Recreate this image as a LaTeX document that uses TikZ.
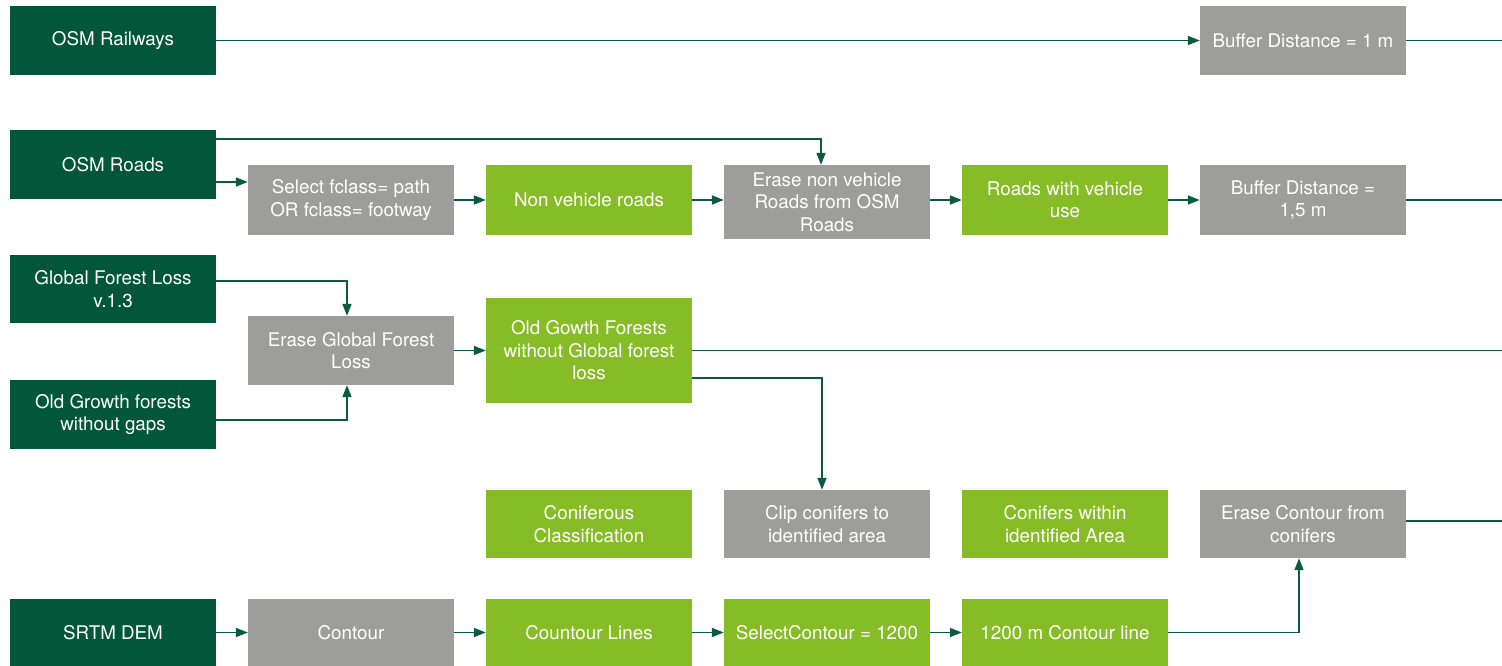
\documentclass[tikz,border=0pt]{standalone}
\usepackage{fontspec}
\setmainfont{TeX Gyre Heros}
\usetikzlibrary{arrows.meta,calc}
\definecolor{dkgreen}{HTML}{02573A}
\definecolor{ltgreen}{HTML}{86BC25}
\definecolor{boxgrey}{HTML}{9D9D9C}
\definecolor{linegreen}{HTML}{0B5B3F}
\begin{document}
\begin{tikzpicture}[x=1pt,y=-1pt,
  box/.style={minimum width=206pt, minimum height=68pt, inner sep=0pt, align=center, text=white, font=\fontsize{18.8}{22.5}\selectfont},
  src/.style={box, fill=dkgreen},
  proc/.style={box, fill=boxgrey},
  res/.style={box, fill=ltgreen},
  conn/.style={draw=linegreen, line width=1.6pt},
  arr/.style={conn, -{Triangle[length=12pt,width=9pt]}}]
\useasboundingbox (0,0) rectangle (1502,666);
% row 1
\node[src, minimum height=69pt] (rail) at (113,40.5) {OSM Railways};
\node[proc, minimum height=69pt] (buf1) at (1303,40.5) {Buffer Distance = 1 m};
% row 2
\node[src, minimum height=69pt] (roads) at (113,164.5) {OSM Roads};
\node[proc, minimum height=70pt] (select) at (351,200) {Select fclass= path\\OR fclass= footway};
\node[res, minimum height=70pt] (nonveh) at (589,200) {Non vehicle roads};
\node[proc, minimum height=74pt] (erasenv) at (827,202) {Erase non vehicle\\Roads from OSM\\Roads};
\node[res, minimum height=70pt] (roadsveh) at (1065,200) {Roads with vehicle\\use};
\node[proc, minimum height=70pt] (buf15) at (1303,200) {Buffer Distance =\\1,5 m};
% row 3
\node[src, minimum height=68pt] (gfl) at (113,289) {Global Forest Loss\\v.1.3};
\node[proc, minimum height=69pt] (eraseg) at (351,350.5) {Erase Global Forest\\Loss};
\node[src, minimum height=69pt] (ogf) at (113,414.5) {Old Growth forests\\without gaps};
\node[res, minimum height=105pt] (oldg) at (589,350.5) {Old Gowth Forests\\without Global forest\\loss};
% row 4
\node[res] (conif) at (589,524) {Coniferous\\Classification};
\node[proc] (clip) at (827,524) {Clip conifers to\\identified area};
\node[res] (within) at (1065,524) {Conifers within\\identified Area};
\node[proc] (erasec) at (1303,524) {Erase Contour from\\conifers};
% row 5
\node[src, minimum height=67pt] (srtm) at (113,632.5) {SRTM DEM};
\node[proc, minimum height=67pt] (contour) at (351,632.5) {Contour};
\node[res, minimum height=67pt] (clines) at (589,632.5) {Countour Lines};
\node[res, minimum height=67pt] (sel1200) at (827,632.5) {SelectContour = 1200};
\node[res, minimum height=67pt] (m1200) at (1065,632.5) {1200 m Contour line};
% free ends
\coordinate (e1) at (1502,40.5);
\coordinate (e2) at (1502,200);
\coordinate (e3) at (1502,350.5);
\coordinate (e4) at (1502,521);
% connectors
\draw[arr] (rail) -- (buf1);
\draw[conn] (buf1) -- (e1);
\draw[arr] (roads.east |- 0,139) -| ($(erasenv.north)+(-6,0)$);
\draw[arr] (roads.east |- 0,182) -- (select.west |- 0,182);
\draw[arr] (select) -- (nonveh);
\draw[arr] (nonveh) -- (nonveh -| erasenv.west);
\draw[arr] (erasenv.east |- roadsveh) -- (roadsveh);
\draw[arr] (roadsveh) -- (buf15);
\draw[conn] (buf15) -- (e2);
\draw[arr] (gfl.east |- 0,281) -| ($(eraseg.north)+(-4,0)$);
\draw[arr] (ogf.east |- 0,420) -| ($(eraseg.south)+(-4,0)$);
\draw[arr] (eraseg) -- (oldg);
\draw[conn] (oldg) -- (e3);
\draw[arr] (oldg.east |- 0,378) -| ($(clip.north)+(-5,0)$);
\draw[conn] (erasec.east |- e4) -- (e4);
\draw[arr] (srtm) -- (contour);
\draw[arr] (contour) -- (clines);
\draw[arr] (clines) -- (sel1200);
\draw[arr] (sel1200) -- (m1200);
\draw[arr] (m1200) -| ($(erasec.south)+(-4,0)$);
\end{tikzpicture}
\end{document}
